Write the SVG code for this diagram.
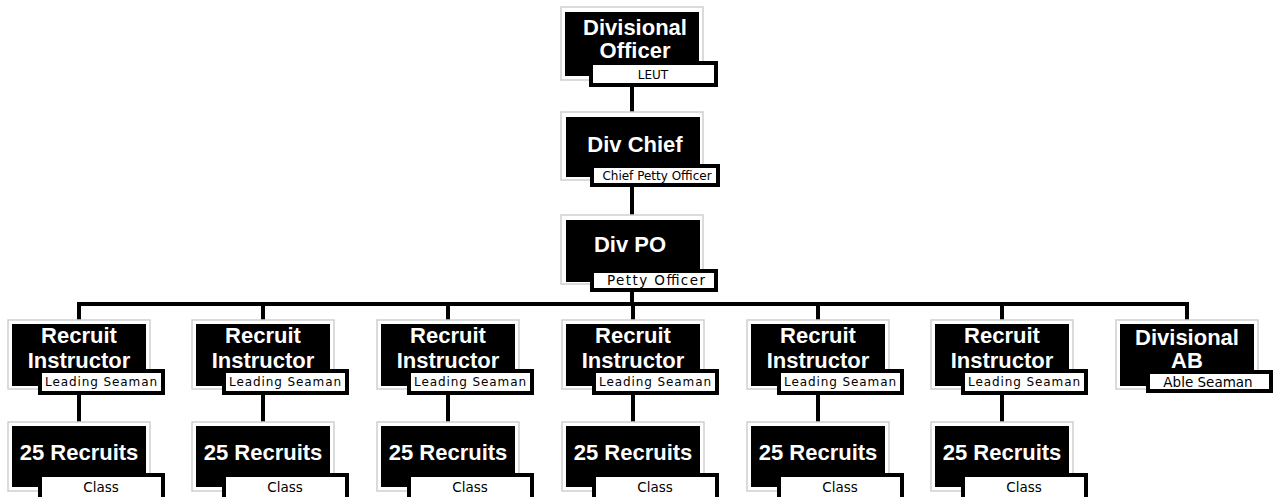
<svg xmlns="http://www.w3.org/2000/svg" width="1275" height="497" viewBox="0 0 1275 497">
<style>
.outer{fill:#fff;stroke:#cfcfcf;stroke-width:1.5}
.inner{fill:#000}
.sub{fill:#fff;stroke:#000;stroke-width:4}
.t{font-family:"Liberation Sans",Arial,sans-serif;font-weight:bold;font-size:22px;fill:#fff;text-anchor:middle}
.s{font-family:"DejaVu Sans",sans-serif;font-size:13.5px;fill:#000;text-anchor:middle}
.ls{font-family:"DejaVu Sans",sans-serif;font-size:12px;fill:#000;text-anchor:middle}
.c{stroke:#000;stroke-width:4;fill:none}
</style>
<rect width="1275" height="497" fill="#fff"/>
<g id="connectors">
<path class="c" d="M632,86V114M632,184V217M632,290V304"/>
<path class="c" d="M79,320V304H1187V320"/>
<path class="c" d="M263,304V320M448,304V320M633,304V320M818,304V320M1002,304V320"/>
<path class="c" d="M79,394V424M263,394V424M448,394V424M633,394V424M818,394V424M1002,394V424"/>
</g>
<g id="divisional-officer">
<rect class="outer" x="561" y="7" width="142" height="73"/>
<rect class="inner" x="565" y="12" width="134" height="64"/>
<text class="t" x="635" y="35">Divisional</text>
<text class="t" x="635" y="58">Officer</text>
<rect class="sub" x="591" y="63" width="125" height="22"/>
<text class="ls" x="653" y="79" font-size="13">LEUT</text>
</g>
<g id="div-chief">
<rect class="outer" x="561" y="112" width="142" height="68"/>
<rect class="inner" x="566" y="117" width="134" height="60"/>
<text class="t" x="635" y="152">Div Chief</text>
<rect class="sub" x="592" y="166" width="126" height="19"/>
<text class="ls" x="657" y="180">Chief Petty Officer</text>
</g>
<g id="div-po">
<rect class="outer" x="561" y="215" width="142" height="69"/>
<rect class="inner" x="566" y="220" width="134" height="62"/>
<text class="t" x="630" y="252">Div PO</text>
<rect class="sub" x="592" y="271" width="124" height="19"/>
<text class="s" x="656" y="285" textLength="98" lengthAdjust="spacing">Petty Officer</text>
</g>
<g id="ri-1">
<rect class="outer" x="8" y="320" width="142" height="69"/>
<rect class="inner" x="12" y="324" width="134" height="62"/>
<text class="t" x="79" y="343">Recruit</text>
<text class="t" x="79" y="368">Instructor</text>
<rect class="sub" x="40" y="371" width="123" height="22"/>
<text class="ls" x="101" y="386" textLength="112" lengthAdjust="spacing">Leading Seaman</text>
</g>
<g id="ri-2">
<rect class="outer" x="192" y="320" width="142" height="69"/>
<rect class="inner" x="196" y="324" width="134" height="62"/>
<text class="t" x="263" y="343">Recruit</text>
<text class="t" x="263" y="368">Instructor</text>
<rect class="sub" x="224" y="371" width="123" height="22"/>
<text class="ls" x="285" y="386" textLength="112" lengthAdjust="spacing">Leading Seaman</text>
</g>
<g id="ri-3">
<rect class="outer" x="377" y="320" width="142" height="69"/>
<rect class="inner" x="381" y="324" width="134" height="62"/>
<text class="t" x="448" y="343">Recruit</text>
<text class="t" x="448" y="368">Instructor</text>
<rect class="sub" x="409" y="371" width="123" height="22"/>
<text class="ls" x="470" y="386" textLength="112" lengthAdjust="spacing">Leading Seaman</text>
</g>
<g id="ri-4">
<rect class="outer" x="562" y="320" width="142" height="69"/>
<rect class="inner" x="566" y="324" width="134" height="62"/>
<text class="t" x="633" y="343">Recruit</text>
<text class="t" x="633" y="368">Instructor</text>
<rect class="sub" x="594" y="371" width="123" height="22"/>
<text class="ls" x="655" y="386" textLength="112" lengthAdjust="spacing">Leading Seaman</text>
</g>
<g id="ri-5">
<rect class="outer" x="747" y="320" width="142" height="69"/>
<rect class="inner" x="751" y="324" width="134" height="62"/>
<text class="t" x="818" y="343">Recruit</text>
<text class="t" x="818" y="368">Instructor</text>
<rect class="sub" x="779" y="371" width="123" height="22"/>
<text class="ls" x="840" y="386" textLength="112" lengthAdjust="spacing">Leading Seaman</text>
</g>
<g id="ri-6">
<rect class="outer" x="931" y="320" width="142" height="69"/>
<rect class="inner" x="935" y="324" width="134" height="62"/>
<text class="t" x="1002" y="343">Recruit</text>
<text class="t" x="1002" y="368">Instructor</text>
<rect class="sub" x="963" y="371" width="123" height="22"/>
<text class="ls" x="1024" y="386" textLength="112" lengthAdjust="spacing">Leading Seaman</text>
</g>
<g id="divisional-ab">
<rect class="outer" x="1116" y="320" width="142" height="69"/>
<rect class="inner" x="1120" y="324" width="134" height="62"/>
<text class="t" x="1187" y="345">Divisional</text>
<text class="t" x="1187" y="368">AB</text>
<rect class="sub" x="1148" y="372" width="123" height="19"/>
<text class="s" x="1208" y="387">Able Seaman</text>
</g>
<g id="class-1">
<rect class="outer" x="8" y="422" width="142" height="69"/>
<rect class="inner" x="12" y="426" width="134" height="61"/>
<text class="t" x="79" y="460">25 Recruits</text>
<rect class="sub" x="40" y="475" width="123" height="24"/>
<text class="s" x="101" y="492">Class</text>
</g>
<g id="class-2">
<rect class="outer" x="192" y="422" width="142" height="69"/>
<rect class="inner" x="196" y="426" width="134" height="61"/>
<text class="t" x="263" y="460">25 Recruits</text>
<rect class="sub" x="224" y="475" width="123" height="24"/>
<text class="s" x="285" y="492">Class</text>
</g>
<g id="class-3">
<rect class="outer" x="377" y="422" width="142" height="69"/>
<rect class="inner" x="381" y="426" width="134" height="61"/>
<text class="t" x="448" y="460">25 Recruits</text>
<rect class="sub" x="409" y="475" width="123" height="24"/>
<text class="s" x="470" y="492">Class</text>
</g>
<g id="class-4">
<rect class="outer" x="562" y="422" width="142" height="69"/>
<rect class="inner" x="566" y="426" width="134" height="61"/>
<text class="t" x="633" y="460">25 Recruits</text>
<rect class="sub" x="594" y="475" width="123" height="24"/>
<text class="s" x="655" y="492">Class</text>
</g>
<g id="class-5">
<rect class="outer" x="747" y="422" width="142" height="69"/>
<rect class="inner" x="751" y="426" width="134" height="61"/>
<text class="t" x="818" y="460">25 Recruits</text>
<rect class="sub" x="779" y="475" width="123" height="24"/>
<text class="s" x="840" y="492">Class</text>
</g>
<g id="class-6">
<rect class="outer" x="931" y="422" width="142" height="69"/>
<rect class="inner" x="935" y="426" width="134" height="61"/>
<text class="t" x="1002" y="460">25 Recruits</text>
<rect class="sub" x="963" y="475" width="123" height="24"/>
<text class="s" x="1024" y="492">Class</text>
</g>
</svg>
